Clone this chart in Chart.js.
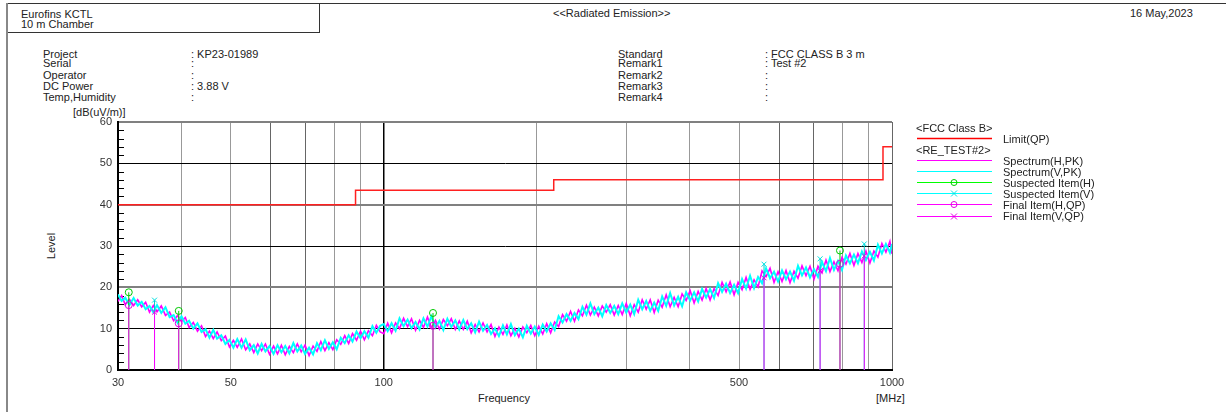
<!DOCTYPE html>
<html>
<head>
<meta charset="utf-8">
<script src="https://cdn.jsdelivr.net/npm/chart.js@4.4.0/dist/chart.umd.min.js"></script>
<style>
    body { margin: 0; background: #fff; font-family: 'Liberation Sans', Arial, sans-serif; font-size: 11px; color: #222; }
    #page { position: relative; width: 1226px; height: 412px; overflow: hidden; }
    #chart { position: absolute; left: 0; top: 0; }
    .t { position: absolute; white-space: nowrap; line-height: 12px; }
    #box { position: absolute; left: 7px; top: 3px; width: 311px; height: 29px; border: 1px solid #333; border-top: none; }
    #topline { position: absolute; left: 7px; top: 3px; width: 1219px; border-top: 1px solid #333; }
    #leftline { position: absolute; left: 6px; top: 3px; height: 409px; border-left: 2px solid #888; }
    #legend { position: absolute; left: 0; top: 0; }
</style>
</head>
<body>
<div id="page">
    <div id="topline"></div>
    <div id="box"></div>
    <div id="leftline"></div>
    <div class="t" style="left:21px;top:8px">Eurofins KCTL</div>
    <div class="t" style="left:21px;top:18px">10 m Chamber</div>
    <div class="t" style="left:553px;top:7px">&lt;&lt;Radiated Emission&gt;&gt;</div>
    <div class="t" style="left:1130px;top:7px">16 May,2023</div>

    <div class="t" style="left:43px;top:48px">Project</div>
    <div class="t" style="left:43px;top:57px">Serial</div>
    <div class="t" style="left:43px;top:69px">Operator</div>
    <div class="t" style="left:43px;top:80px">DC Power</div>
    <div class="t" style="left:43px;top:91px">Temp,Humidity</div>
    <div class="t" style="left:191px;top:48px">: KP23-01989</div>
    <div class="t" style="left:191px;top:57px">:</div>
    <div class="t" style="left:191px;top:69px">:</div>
    <div class="t" style="left:191px;top:80px">: 3.88 V</div>
    <div class="t" style="left:191px;top:91px">:</div>

    <div class="t" style="left:618px;top:48px">Standard</div>
    <div class="t" style="left:618px;top:57px">Remark1</div>
    <div class="t" style="left:618px;top:69px">Remark2</div>
    <div class="t" style="left:618px;top:80px">Remark3</div>
    <div class="t" style="left:618px;top:91px">Remark4</div>
    <div class="t" style="left:765px;top:48px">: FCC CLASS B 3 m</div>
    <div class="t" style="left:765px;top:57px">: Test #2</div>
    <div class="t" style="left:765px;top:69px">:</div>
    <div class="t" style="left:765px;top:80px">:</div>
    <div class="t" style="left:765px;top:91px">:</div>

    <div class="t" style="left:73px;top:106px">[dB(uV/m)]</div>
    <div class="t" style="left:33px;top:240px;width:36px;text-align:center;transform:rotate(-90deg)">Level</div>
    <div class="t" style="left:478px;top:392px">Frequency</div>
    <div class="t" style="left:876px;top:392px">[MHz]</div>

    <canvas id="chart" width="1226" height="412"></canvas>

    <svg id="legend" width="1226" height="412">
        <line x1="917" y1="138.5" x2="992" y2="138.5" stroke="#ff0000" stroke-width="1.5"/>
        <line x1="917" y1="160.5" x2="992" y2="160.5" stroke="#ff00ff"/>
        <line x1="917" y1="171.5" x2="992" y2="171.5" stroke="#00ffff"/>
        <line x1="917" y1="182.5" x2="992" y2="182.5" stroke="#00ff00"/>
        <circle cx="954" cy="182.5" r="3" fill="none" stroke="#00c800"/>
        <line x1="917" y1="193.5" x2="992" y2="193.5" stroke="#00ffff"/>
        <path d="M951 190.5 L957 196.5 M957 190.5 L951 196.5" stroke="#00e0e0"/>
        <line x1="917" y1="204.5" x2="992" y2="204.5" stroke="#ff00ff"/>
        <circle cx="954" cy="204.5" r="3" fill="none" stroke="#e000e0"/>
        <line x1="917" y1="216.5" x2="992" y2="216.5" stroke="#ff00ff"/>
        <path d="M951 213.5 L957 219.5 M957 213.5 L951 219.5" stroke="#e000e0"/>
    </svg>
    <div class="t" style="left:916px;top:122px">&lt;FCC Class B&gt;</div>
    <div class="t" style="left:1003px;top:133px">Limit(QP)</div>
    <div class="t" style="left:916px;top:144px">&lt;RE_TEST#2&gt;</div>
    <div class="t" style="left:1003px;top:155px">Spectrum(H,PK)</div>
    <div class="t" style="left:1003px;top:166px">Spectrum(V,PK)</div>
    <div class="t" style="left:1003px;top:177px">Suspected Item(H)</div>
    <div class="t" style="left:1003px;top:188px">Suspected Item(V)</div>
    <div class="t" style="left:1003px;top:199px">Final Item(H,QP)</div>
    <div class="t" style="left:1003px;top:210px">Final Item(V,QP)</div>
</div>

<script>
// x axis grid positions and labelled ticks (MHz)
const xGrid = [30, 40, 50, 60, 70, 80, 90, 100, 200, 300, 400, 500, 600, 700, 800, 900, 1000];
const xLabels = [30, 50, 100, 500, 1000];

// FCC Class B 3 m limit (QP)
const limitFreq = [30, 88, 216, 960, 1000];
const limitLevel = [40, 43.5, 46, 54, 54];

// spectrum frequencies (MHz)
const specFreq = [
    30, 30.5, 31, 31.6, 32.2, 32.8, 33.4, 34, 34.6, 35.2,
    35.8, 36.5, 37.2, 37.9, 38.6, 39.3, 40, 40.7, 41.4, 42.2,
    43, 43.8, 44.6, 45.4, 46.2, 47, 47.9, 48.8, 49.7, 50.6,
    51.5, 52.5, 53.5, 54.5, 55.5, 56.5, 57.5, 58.5, 59.6, 60.7,
    61.8, 62.9, 64, 65.2, 66.4, 67.6, 68.8, 70, 71.3, 72.6,
    73.9, 75.2, 76.6, 78, 79.4, 80.8, 82.3, 83.8, 85.3, 86.8,
    88.4, 90, 91.6, 93.3, 95, 96.7, 98.4,
    100, 101.8, 103.6, 105.5, 107.4, 109.4, 111.4, 113.4, 115.5, 117.6,
    119.7, 121.9, 124.1, 126.4, 128.7, 131, 133.4, 135.8, 138.3, 140.8,
    143.4, 146, 148.6, 151.3, 154, 156.8, 159.7, 162.6, 165.5, 168.5,
    171.6, 174.7, 177.9, 181.1, 184.4, 187.8, 191.2, 194.7, 198.2, 201.8,
    205.5, 209.2, 213, 216.9, 220.8, 224.8, 228.9, 233.1, 237.3, 241.6,
    246, 250.5, 255, 259.6, 264.3, 269.1, 274, 279, 284.1, 289.3,
    294.6, 300, 305.5, 311, 316.7, 322.5, 328.4, 334.4, 340.5, 346.7,
    353, 359.5, 366, 372.7, 379.5, 386.4, 393.5, 400.7, 408, 415.5,
    423, 430.8, 438.6, 446.6, 454.8, 463.1, 471.6, 480.2, 489, 497.9,
    507, 516.3, 525.7, 535.3, 545.1, 555, 565.2, 575.5, 586, 596.7,
    607.6, 618.7, 630, 641.5, 653.2, 665.2, 677.3, 689.7, 702.3, 715.1,
    728.2, 741.5, 755, 768.8, 782.9, 797.2, 811.7, 826.5, 841.6, 857,
    872.6, 888.6, 904.8, 921.3, 938.2, 955.3, 972.8, 990.5, 1000
];

// Spectrum(H,PK) dB(uV/m)
const specH = [
    16.6, 18.0, 15.8, 17.1, 15.6, 17.0, 15.3, 16.4, 14.0, 15.6,
    14.1, 15.5, 13.2, 14.0, 11.9, 13.2, 11.7, 12.7, 10.3, 11.5,
    9.4, 10.7, 8.1, 9.4, 7.6, 9.2, 7.1, 8.2, 5.6, 7.2,
    5.5, 7.5, 4.9, 6.3, 4.2, 6.3, 4.7, 6.3, 3.8, 5.8,
    3.9, 6.0, 3.7, 5.7, 4.2, 6.3, 4.4, 6.0, 3.5, 5.8,
    4.5, 6.9, 4.7, 6.6, 4.9, 7.3, 6.2, 8.3, 6.4, 8.8,
    7.2, 9.4, 7.3, 9.5, 8.3, 10.8, 9.2,
    8.8, 11.3, 9.0, 11.4, 10.0, 12.5, 10.5, 12.4, 9.6, 12.0,
    10.3, 12.8, 10.2, 12.0, 9.9, 12.2, 10.7, 12.4, 9.8, 11.9,
    9.8, 11.8, 9.0, 11.0, 9.2, 11.4, 9.2, 11.0, 8.1, 10.4,
    8.6, 10.9, 8.3, 10.1, 8.0, 10.4, 9.0, 10.8, 8.3, 10.6,
    8.7, 11.2, 9.0, 11.6, 10.5, 13.4, 11.8, 14.2, 11.8, 14.5,
    13.1, 15.7, 13.3, 15.2, 13.1, 15.5, 14.0, 15.8, 13.3, 15.6,
    13.4, 16.1, 13.1, 15.8, 14.0, 17.0, 14.7, 17.0, 13.9, 16.9,
    15.2, 18.2, 15.3, 17.6, 15.3, 18.4, 16.8, 19.2, 16.2, 19.0,
    16.9, 19.7, 16.9, 19.7, 18.0, 21.2, 18.9, 21.3, 18.2, 21.2,
    19.4, 22.4, 19.5, 21.8, 20.1, 24.0, 22.6, 24.6, 21.2, 23.8,
    21.4, 24.1, 21.1, 23.9, 22.2, 25.2, 22.8, 25.1, 22.0, 25.1,
    23.5, 26.6, 23.8, 26.2, 24.0, 27.2, 25.6, 28.2, 25.3, 28.2,
    26.0, 28.8, 25.9, 28.8, 27.3, 30.6, 28.5, 31.1, 28.1
];

// Spectrum(V,PK) dB(uV/m)
const specV = [
    18.3, 16.7, 17.5, 15.7, 17.4, 15.6, 16.5, 14.7, 15.5, 14.0,
    15.7, 13.8, 15.2, 12.8, 13.3, 11.4, 13.0, 11.2, 11.9, 10.0,
    11.3, 9.2, 9.9, 7.8, 9.7, 7.6, 8.4, 6.3, 7.3, 5.4,
    7.5, 5.4, 7.4, 4.8, 6.0, 4.0, 6.3, 4.5, 5.8, 3.9,
    6.0, 4.3, 5.8, 4.0, 6.5, 4.5, 5.9, 3.9, 5.4, 3.8,
    6.5, 4.8, 7.2, 5.1, 6.7, 5.0, 7.8, 6.5, 8.4, 6.9,
    9.3, 7.7, 9.4, 7.8, 10.6, 9.0, 10.7,
    11.1, 9.4, 11.3, 9.5, 12.5, 10.6, 12.2, 10.1, 11.6, 9.8,
    12.5, 10.5, 13.0, 10.3, 11.9, 9.7, 12.4, 10.4, 12.0, 9.8,
    12.1, 9.9, 11.3, 9.1, 11.7, 9.5, 10.9, 8.7, 10.1, 8.2,
    10.8, 8.6, 11.1, 8.4, 10.0, 7.9, 10.7, 8.8, 10.5, 8.5,
    11.0, 9.3, 11.3, 9.7, 13.0, 11.5, 13.5, 11.9, 13.8, 12.3,
    15.3, 13.4, 16.1, 13.5, 15.1, 13.0, 15.7, 13.8, 15.5, 13.5,
    16.1, 13.9, 15.8, 13.5, 17.0, 14.7, 16.7, 14.3, 16.3, 14.3,
    17.8, 15.5, 18.6, 15.6, 17.7, 15.4, 18.8, 16.8, 18.8, 16.6,
    19.6, 17.5, 19.6, 17.4, 21.0, 18.9, 20.9, 18.6, 20.6, 18.6,
    22.0, 19.7, 22.8, 19.8, 22.5, 21.0, 24.6, 22.2, 23.8, 21.4,
    24.1, 21.9, 23.8, 21.6, 25.2, 22.9, 24.8, 22.4, 24.4, 22.5,
    26.1, 23.9, 27.1, 24.2, 26.4, 24.2, 27.7, 25.8, 27.9, 25.8,
    28.7, 26.6, 28.6, 26.5, 30.3, 28.2, 30.5, 28.4, 30.5
];

// suspected / final items
const suspHFreq = [31.5, 39.5, 125, 790];
const suspHLevel = [18.8, 14.3, 13.8, 28.9];
const suspVFreq = [35.4, 560, 722, 882];
const suspVLevel = [16.9, 25.6, 26.9, 30.5];
const finalHLevel = [15.7, 11.3, 10.7, 25.7];
const finalVLevel = [14.0, 22.3, 24.0, 27.6];

function pts(xs, ys) {
    return xs.map((x, i) => ({ x: x, y: ys[i] }));
}

function stems(xs, ys) {
    const out = [];
    xs.forEach((x, i) => {
        out.push({ x: x, y: 0 }, { x: x, y: ys[i] }, { x: x, y: null });
    });
    return out;
}

// small inside tick marks every 2 dB on the left axis
const minorTicks = {
    id: 'minorTicks',
    beforeDatasetsDraw(chart) {
        const { ctx, chartArea, scales: { y } } = chart;
        ctx.save();
        ctx.strokeStyle = '#000';
        ctx.lineWidth = 1;
        y.ticks.forEach(t => {
            if (t.value % 10 === 0) return;
            const py = Math.round(y.getPixelForValue(t.value)) + 0.5;
            ctx.beginPath();
            ctx.moveTo(chartArea.left, py);
            ctx.lineTo(chartArea.left + 6, py);
            ctx.stroke();
        });
        ctx.restore();
    }
};

Chart.defaults.font.family = "'Liberation Sans', Arial, sans-serif";
Chart.defaults.font.size = 11;
Chart.defaults.color = '#333';

const markerBase = { type: 'line', showLine: false, pointBorderWidth: 1, pointRadius: 3.5, pointHoverRadius: 3.5, pointBackgroundColor: 'rgba(0,0,0,0)' };
const lineBase = { type: 'line', pointRadius: 0, spanGaps: false, fill: false, tension: 0 };

new Chart(document.getElementById('chart').getContext('2d'), {
    type: 'line',
    data: {
        datasets: [
            Object.assign({}, markerBase, { label: 'Final Item(V,QP)', data: pts(suspVFreq, finalVLevel), pointStyle: 'crossRot', pointBorderColor: '#e000e0', borderColor: '#e000e0' }),
            Object.assign({}, markerBase, { label: 'Final Item(H,QP)', data: pts(suspHFreq, finalHLevel), pointStyle: 'circle', pointBorderColor: '#e000e0', borderColor: '#e000e0' }),
            Object.assign({}, markerBase, { label: 'Suspected Item(V)', data: pts(suspVFreq, suspVLevel), pointStyle: 'crossRot', pointBorderColor: '#00e0e0', borderColor: '#00e0e0' }),
            Object.assign({}, markerBase, { label: 'Suspected Item(H)', data: pts(suspHFreq, suspHLevel), pointStyle: 'circle', pointBorderColor: '#00c800', borderColor: '#00c800' }),
            Object.assign({}, lineBase, { label: 'final stems H', data: stems(suspHFreq, finalHLevel), borderColor: '#ff00ff', borderWidth: 1 }),
            Object.assign({}, lineBase, { label: 'final stems V', data: stems(suspVFreq, finalVLevel), borderColor: '#ff00ff', borderWidth: 1 }),
            Object.assign({}, lineBase, { label: 'susp stems H', data: stems(suspHFreq, suspHLevel), borderColor: '#00cc00', borderWidth: 1 }),
            Object.assign({}, lineBase, { label: 'susp stems V', data: stems(suspVFreq, suspVLevel), borderColor: '#00cccc', borderWidth: 1 }),
            Object.assign({}, lineBase, { label: 'Limit(QP)', data: pts(limitFreq, limitLevel), borderColor: '#ff2020', borderWidth: 1.5, stepped: 'before' }),
            Object.assign({}, lineBase, { label: 'Spectrum(V,PK)', data: pts(specFreq, specV), borderColor: '#00ffff', borderWidth: 2 }),
            Object.assign({}, lineBase, { label: 'Spectrum(H,PK)', data: pts(specFreq, specH), borderColor: '#ff00ff', borderWidth: 1.6 })
        ]
    },
    options: {
        responsive: false,
        animation: false,
        events: [],
        layout: { padding: { left: 0, top: 122, right: 334, bottom: 0 } },
        plugins: {
            legend: { display: false },
            tooltip: { enabled: false }
        },
        scales: {
            x: {
                type: 'logarithmic',
                min: 30,
                max: 1000,
                afterBuildTicks: s => { s.ticks = xGrid.map(v => ({ value: v })); },
                afterFit: s => { s.height = 42; },
                ticks: {
                    autoSkip: false,
                    maxRotation: 0,
                    padding: 6,
                    callback: v => xLabels.includes(v) ? String(v) : ''
                },
                grid: {
                    drawTicks: false,
                    color: c => c.tick && c.tick.value === 100 ? '#000' : (c.tick && [60, 70, 600, 700, 1000].includes(c.tick.value) ? '#666' : '#999'),
                    lineWidth: c => c.tick && c.tick.value === 100 ? 1.5 : 1
                },
                border: { display: true, color: '#000', width: 2 }
            },
            y: {
                min: 0,
                max: 60,
                afterFit: s => { s.width = 118; },
                ticks: {
                    stepSize: 2,
                    autoSkip: false,
                    padding: 6,
                    callback: v => v % 10 === 0 ? String(v) : ''
                },
                grid: {
                    drawTicks: false,
                    color: c => {
                        const v = c.tick ? c.tick.value : 0;
                        if (v % 10 !== 0) return 'rgba(0,0,0,0)';
                        return (v % 20 === 0) ? '#808080' : '#000';
                    },
                    lineWidth: c => {
                        const v = c.tick ? c.tick.value : 0;
                        return (v % 20 === 0 && v !== 0) ? 2 : 1;
                    }
                },
                border: { display: true, color: '#000', width: 2 }
            }
        }
    },
    plugins: [minorTicks]
});
</script>
</body>
</html>
